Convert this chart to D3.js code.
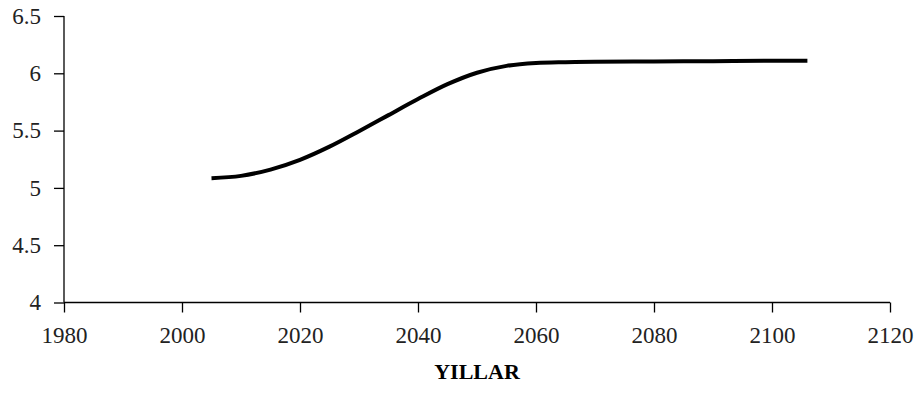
<!DOCTYPE html>
<html>
<head>
<meta charset="utf-8">
<script src="https://cdn.jsdelivr.net/npm/d3@7"></script>
<style>
  html, body { margin: 0; padding: 0; background: #fff; }
</style>
</head>
<body>
<svg id="chart" width="919" height="396"></svg>
<script>
const years  = [2005, 2010, 2015, 2020, 2025, 2030, 2035, 2040, 2045, 2050, 2055, 2060, 2065, 2070, 2080, 2090, 2100, 2106];
const values = [5.085, 5.105, 5.16, 5.245, 5.36, 5.495, 5.635, 5.775, 5.905, 6.005, 6.065, 6.09, 6.097, 6.10, 6.103, 6.106, 6.109, 6.11];
const xTicks = [1980, 2000, 2020, 2040, 2060, 2080, 2100, 2120];
const yTicks = [4, 4.5, 5, 5.5, 6, 6.5];
const xTitle = "YILLAR";

const FONT = '"Liberation Serif", "DejaVu Serif", serif';
const svg = d3.select("#chart");
const x = d3.scaleLinear().domain([1980, 2120]).range([64, 890]);
const y = d3.scaleLinear().domain([4, 6.5]).range([302.5, 16]);

const yAxis = svg.append("g").attr("transform", "translate(64,0)")
  .call(d3.axisLeft(y).tickValues(yTicks).tickFormat(d => String(d)).tickSize(10).tickPadding(13));
const xAxis = svg.append("g").attr("transform", "translate(0,302.5)")
  .call(d3.axisBottom(x).tickValues(xTicks).tickFormat(d => String(d)).tickSize(10).tickPadding(14));

[yAxis, xAxis].forEach(g => {
  g.attr("font-family", FONT).attr("font-size", 23);
  g.select(".domain").attr("stroke", "#000").attr("stroke-width", 1.3);
  g.selectAll(".tick line").attr("stroke", "#000").attr("stroke-width", 1.3);
  g.selectAll(".tick text").attr("font-family", FONT).attr("font-size", 23)
    .style("font-family", FONT).style("font-size", "23px").attr("fill", "#222");
});
yAxis.select(".domain").attr("d", `M0,${y(6.5)}V${y(4)}`);
xAxis.select(".domain").attr("d", `M${x(1980)},0H${x(2120)}`);

const line = d3.line()
  .x((d, i) => x(years[i]))
  .y(d => y(d))
  .curve(d3.curveCatmullRom.alpha(0.5));

svg.append("path")
  .datum(values)
  .attr("fill", "none")
  .attr("stroke", "#000")
  .attr("stroke-width", 4)
  .attr("d", line);

svg.append("text")
  .attr("x", (x(1980) + x(2120)) / 2)
  .attr("y", 379)
  .attr("text-anchor", "middle")
  .style("font-family", FONT)
  .style("font-size", "22px")
  .style("font-weight", "bold")
  .text(xTitle);
</script>
</body>
</html>
